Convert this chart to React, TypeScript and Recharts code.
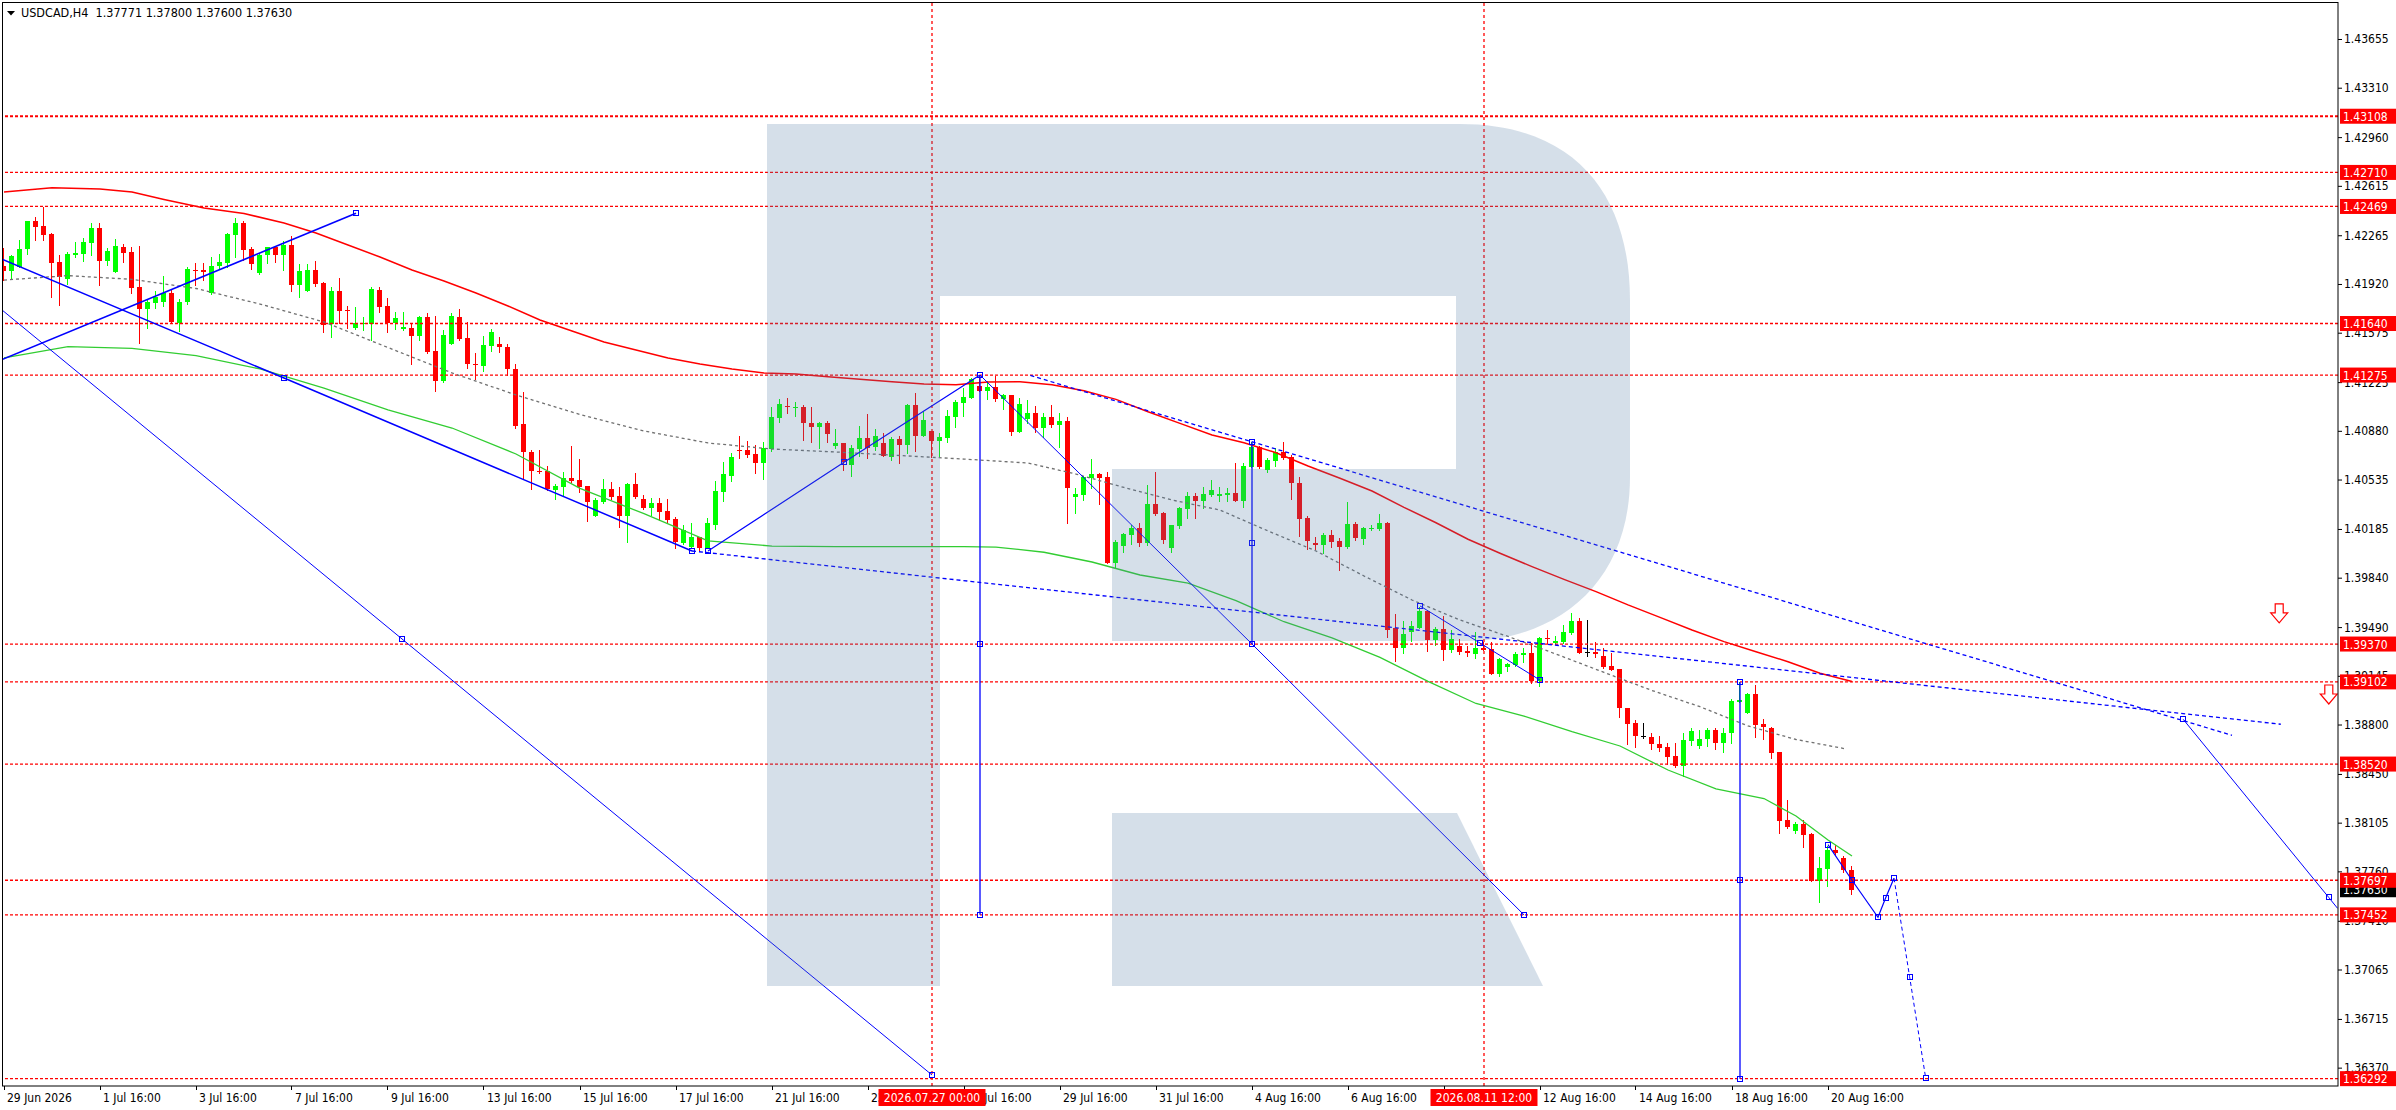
import React from 'react';
import { ComposedChart, Bar, Line, Scatter, XAxis, YAxis, ReferenceLine } from 'recharts';

const FONT = "'DejaVu Sans Condensed', 'DejaVu Sans', sans-serif";

// ---- candles (H4 bars, index 0 = 29 Jun 16:00) ----
const opens = [1.42049,1.42014,1.42042,1.42165,1.42368,1.42330,1.42274,1.42075,1.41957,1.42125,
1.42132,1.42212,1.42314,1.42085,1.42007,1.42179,1.42144,1.41896,1.41743,1.41787,
1.41795,1.41854,1.41646,1.41795,1.42019,1.42019,1.41854,1.42049,1.42071,1.42267,
1.42349,1.42165,1.42000,1.42125,1.42179,1.42125,1.42196,1.41913,1.41870,1.42019,
1.41929,1.41636,1.41870,1.41736,1.41610,1.41636,1.41636,1.41877,1.41764,1.41641,
1.41599,1.41606,1.41552,1.41689,1.41446,1.41235,1.41493,1.41689,1.41535,1.41353,
1.41342,1.41483,1.41495,1.41471,1.41318,1.40929,1.40733,1.40598,1.40596,1.40461,
1.40485,1.40544,1.40532,1.40490,1.40279,1.40379,1.40466,1.40419,1.40279,1.40504,
1.40397,1.40336,1.40367,1.40312,1.40256,1.40088,1.40055,1.40126,1.40048,1.40213,
1.40449,1.40563,1.40744,1.40744,1.40716,1.40655,1.40749,1.40973,1.41056,1.41044,
1.41051,1.40938,1.40910,1.40938,1.40773,1.40794,1.40638,1.40749,1.40830,1.40763,
1.40797,1.40697,1.40822,1.40780,1.41063,1.40844,1.40882,1.40811,1.40832,1.40981,
1.41075,1.41115,1.41198,1.41165,1.41188,1.41106,1.41134,1.40874,1.40964,1.41009,
1.40898,1.40976,1.40922,1.40950,1.40414,1.40426,1.40546,1.40575,1.40551,1.39947,
1.40065,1.40143,1.40190,1.40088,1.40362,1.40298,1.40053,1.40206,1.40329,1.40419,
1.40386,1.40426,1.40421,1.40428,1.40440,1.40386,1.40626,1.40763,1.40603,1.40669,
1.40733,1.40697,1.40508,1.40261,1.40084,1.40072,1.40143,1.40100,1.40055,1.40221,
1.40112,1.40183,1.40183,1.40230,1.39482,1.39345,1.39458,1.39486,1.39604,1.39399,
1.39474,1.39328,1.39356,1.39321,1.39300,1.39340,1.39333,1.39158,1.39210,1.39221,
1.39292,1.39309,1.39108,1.39415,1.39380,1.39387,1.39450,1.39533,1.39313,1.39311,
1.39285,1.39214,1.39191,1.38919,1.38813,1.38721,1.38714,1.38664,1.38638,1.38577,
1.38509,1.38686,1.38650,1.38695,1.38761,1.38671,1.38737,1.38962,1.38884,1.39016,
1.38804,1.38778,1.38603,1.38124,1.38048,1.38095,1.38025,1.37694,1.37777,1.37911,
1.37852,1.37771];

const highs = [1.42172,1.42125,1.42231,1.42368,1.42394,1.42467,1.42278,1.42125,1.42144,1.42215,
1.42248,1.42349,1.42349,1.42177,1.42238,1.42201,1.42184,1.42189,1.41813,1.41870,
1.41976,1.41882,1.41811,1.42042,1.42066,1.42066,1.42113,1.42132,1.42278,1.42385,
1.42368,1.42179,1.42142,1.42184,1.42189,1.42227,1.42260,1.42059,1.42061,1.42085,
1.41936,1.41901,1.41965,1.41766,1.41754,1.41684,1.41901,1.41901,1.41823,1.41724,
1.41719,1.41641,1.41696,1.41717,1.41693,1.41594,1.41717,1.41741,1.41651,1.41429,
1.41552,1.41599,1.41547,1.41493,1.41351,1.41153,1.40744,1.40744,1.40631,1.40504,
1.40589,1.40773,1.40681,1.40490,1.40402,1.40537,1.40518,1.40480,1.40508,1.40579,
1.40426,1.40402,1.40402,1.40395,1.40268,1.40213,1.40225,1.40131,1.40265,1.40527,
1.40659,1.40721,1.40844,1.40808,1.40780,1.40803,1.41051,1.41103,1.41115,1.41087,
1.41063,1.41051,1.40945,1.40950,1.40893,1.40794,1.40778,1.40915,1.41000,1.40893,
1.40867,1.40839,1.40844,1.41068,1.41151,1.41021,1.40882,1.40867,1.41028,1.41099,
1.41186,1.41257,1.41270,1.41236,1.41269,1.41141,1.41134,1.41115,1.41099,1.41056,
1.41009,1.41063,1.41009,1.40976,1.40473,1.40560,1.40681,1.40584,1.40586,1.40107,
1.40155,1.40213,1.40225,1.40497,1.40591,1.40308,1.40213,1.40338,1.40449,1.40438,
1.40485,1.40532,1.40480,1.40473,1.40650,1.40650,1.40799,1.40773,1.40686,1.40756,
1.40799,1.40709,1.40556,1.40279,1.40131,1.40154,1.40178,1.40124,1.40379,1.40237,
1.40202,1.40213,1.40289,1.40237,1.39583,1.39534,1.39536,1.39635,1.39604,1.39493,
1.39569,1.39470,1.39406,1.39356,1.39456,1.39387,1.39387,1.39269,1.39238,1.39316,
1.39339,1.39380,1.39422,1.39469,1.39427,1.39505,1.39587,1.39557,1.39540,1.39382,
1.39339,1.39309,1.39191,1.38919,1.38832,1.38813,1.38742,1.38721,1.38671,1.38667,
1.38742,1.38778,1.38761,1.38778,1.38778,1.38778,1.38978,1.39102,1.39025,1.39080,
1.38837,1.38785,1.38603,1.38265,1.38112,1.38124,1.38029,1.37859,1.37940,1.37947,
1.37869,1.37800];

const lows = [1.41948,1.41953,1.42042,1.42132,1.42231,1.42231,1.41830,1.41771,1.41920,1.42113,
1.42085,1.42125,1.41913,1.42054,1.42007,1.42073,1.41854,1.41500,1.41610,1.41747,
1.41766,1.41641,1.41587,1.41778,1.41913,1.41948,1.41849,1.42031,1.42042,1.42113,
1.42090,1.42026,1.41991,1.42066,1.42078,1.42019,1.41873,1.41830,1.41870,1.41906,
1.41582,1.41547,1.41641,1.41606,1.41599,1.41594,1.41523,1.41724,1.41582,1.41599,
1.41594,1.41351,1.41523,1.41429,1.41165,1.41224,1.41493,1.41523,1.41323,1.41245,
1.41306,1.41448,1.41441,1.41276,1.40898,1.40539,1.40468,1.40579,1.40461,1.40395,
1.40419,1.40520,1.40449,1.40244,1.40279,1.40371,1.40395,1.40197,1.40095,1.40402,
1.40324,1.40284,1.40249,1.40225,1.40048,1.40076,1.40055,1.40036,1.40048,1.40183,
1.40386,1.40527,1.40690,1.40697,1.40579,1.40537,1.40740,1.40945,1.41009,1.40988,
1.40815,1.40804,1.40761,1.40804,1.40756,1.40603,1.40563,1.40704,1.40690,1.40742,
1.40702,1.40674,1.40655,1.40721,1.40740,1.40844,1.40697,1.40702,1.40804,1.40910,
1.40985,1.41115,1.41165,1.41106,1.41094,1.41035,1.40851,1.40874,1.40933,1.40874,
1.40834,1.40905,1.40763,1.40225,1.40296,1.40390,1.40478,1.40362,1.39947,1.39906,
1.40025,1.40079,1.40065,1.40072,1.40284,1.40088,1.40024,1.40194,1.40265,1.40265,
1.40331,1.40421,1.40386,1.40386,1.40386,1.40343,1.40626,1.40615,1.40591,1.40634,
1.40678,1.40398,1.40138,1.40043,1.40041,1.40017,1.40060,1.39895,1.40048,1.40107,
1.40079,1.40178,1.40178,1.39423,1.39250,1.39309,1.39392,1.39482,1.39323,1.39364,
1.39257,1.39316,1.39297,1.39286,1.39274,1.39328,1.39158,1.39144,1.39182,1.39217,
1.39245,1.39096,1.39073,1.39375,1.39370,1.39380,1.39441,1.39304,1.39287,1.39276,
1.39198,1.39186,1.38855,1.38662,1.38638,1.38702,1.38627,1.38615,1.38518,1.38501,
1.38435,1.38655,1.38631,1.38650,1.38627,1.38608,1.38667,1.38962,1.38884,1.38714,
1.38695,1.38565,1.38029,1.38069,1.38029,1.37930,1.37694,1.37545,1.37656,1.37876,
1.37758,1.37600];

const closes = [1.42014,1.42118,1.42165,1.42368,1.42326,1.42269,1.42071,1.41967,1.42132,1.42137,
1.42215,1.42314,1.42085,1.42153,1.42189,1.42142,1.41894,1.41743,1.41790,1.41830,
1.41854,1.41648,1.41795,1.42024,1.42014,1.42007,1.42049,1.42073,1.42271,1.42349,
1.42161,1.42059,1.42125,1.42179,1.42125,1.42196,1.41913,1.42012,1.42019,1.41920,
1.41629,1.41870,1.41728,1.41728,1.41641,1.41646,1.41882,1.41759,1.41641,1.41677,
1.41613,1.41554,1.41689,1.41441,1.41235,1.41559,1.41693,1.41531,1.41351,1.41344,
1.41486,1.41582,1.41476,1.41316,1.40917,1.40733,1.40598,1.40591,1.40466,1.40490,
1.40544,1.40527,1.40485,1.40379,1.40390,1.40466,1.40414,1.40279,1.40504,1.40414,
1.40336,1.40367,1.40308,1.40249,1.40095,1.40178,1.40131,1.40048,1.40225,1.40454,
1.40574,1.40692,1.40737,1.40709,1.40655,1.40756,1.40976,1.41070,1.41047,1.41051,
1.40938,1.40910,1.40938,1.40858,1.40794,1.40657,1.40761,1.40830,1.40756,1.40844,
1.40704,1.40825,1.40780,1.41063,1.40844,1.40957,1.40811,1.40834,1.40985,1.41087,
1.41122,1.41247,1.41165,1.41188,1.41106,1.41134,1.40874,1.41070,1.41009,1.40898,
1.40976,1.40922,1.40950,1.40478,1.40433,1.40551,1.40575,1.40549,1.39947,1.40093,
1.40150,1.40190,1.40088,1.40362,1.40291,1.40107,1.40213,1.40336,1.40419,1.40386,
1.40433,1.40461,1.40433,1.40440,1.40386,1.40631,1.40763,1.40626,1.40674,1.40733,
1.40686,1.40508,1.40256,1.40102,1.40072,1.40143,1.40095,1.40060,1.40221,1.40119,
1.40190,1.40194,1.40230,1.39470,1.39345,1.39441,1.39498,1.39604,1.39399,1.39474,
1.39328,1.39404,1.39316,1.39304,1.39340,1.39328,1.39158,1.39262,1.39227,1.39299,
1.39309,1.39108,1.39415,1.39403,1.39391,1.39457,1.39533,1.39309,1.39313,1.39299,
1.39205,1.39186,1.38915,1.38804,1.38719,1.38721,1.38660,1.38636,1.38572,1.38509,
1.38690,1.38754,1.38697,1.38761,1.38671,1.38742,1.38966,1.38971,1.39016,1.38796,
1.38780,1.38601,1.38119,1.38076,1.38095,1.38017,1.37694,1.37781,1.37911,1.37888,
1.37770,1.37630];

// ---- moving averages ----
const redMA = [{i:0,p:1.42571},{i:6,p:1.42602},{i:12,p:1.42593},{i:16,p:1.42571},{i:20,p:1.42518},{i:25,p:1.42458},{i:30,p:1.42419},{i:35,p:1.42352},{i:39,p:1.42281},{i:43,p:1.42196},{i:47,p:1.42111},{i:51,p:1.42019},{i:55,p:1.41941},{i:59,p:1.41856},{i:63,p:1.41764},{i:67,p:1.41665},{i:71,p:1.41587},{i:75,p:1.41509},{i:79,p:1.41452},{i:83,p:1.41396},{i:87,p:1.41353},{i:91,p:1.41318},{i:95,p:1.41290},{i:99,p:1.41283},{i:103,p:1.41263},{i:107,p:1.41245},{i:111,p:1.41228},{i:115,p:1.41212},{i:119,p:1.41207},{i:123,p:1.41226},{i:127,p:1.41228},{i:131,p:1.41207},{i:135,p:1.41164},{i:139,p:1.41103},{i:143,p:1.41015},{i:147,p:1.40933},{i:151,p:1.40850},{i:155,p:1.40796},{i:159,p:1.40725},{i:163,p:1.40631},{i:167,p:1.40544},{i:171,p:1.40454},{i:175,p:1.40338},{i:179,p:1.40229},{i:183,p:1.40112},{i:187,p:1.40013},{i:191,p:1.39918},{i:195,p:1.39828},{i:199,p:1.39741},{i:203,p:1.39647},{i:207,p:1.39559},{i:211,p:1.39469},{i:215,p:1.39387},{i:219,p:1.39316},{i:223,p:1.39245},{i:227,p:1.39163},{i:231,p:1.39104}];

const greenMA = [{i:0,p:1.41396},{i:8,p:1.41476},{i:16,p:1.41464},{i:24,p:1.41413},{i:32,p:1.41318},{i:40,p:1.41183},{i:48,p:1.41028},{i:56,p:1.40900},{i:64,p:1.40716},{i:72,p:1.40472},{i:80,p:1.40293},{i:88,p:1.40100},{i:96,p:1.40064},{i:104,p:1.40060},{i:112,p:1.40060},{i:120,p:1.40060},{i:124,p:1.40057},{i:130,p:1.40020},{i:136,p:1.39951},{i:142,p:1.39859},{i:148,p:1.39802},{i:154,p:1.39677},{i:160,p:1.39528},{i:166,p:1.39413},{i:172,p:1.39275},{i:178,p:1.39106},{i:184,p:1.38949},{i:190,p:1.38860},{i:196,p:1.38749},{i:202,p:1.38648},{i:208,p:1.38478},{i:214,p:1.38344},{i:220,p:1.38276},{i:224,p:1.38152},{i:228,p:1.37982},{i:231,p:1.37869}];

const grayMA = [{i:0,p:1.41948},{i:8,p:1.41979},{i:16,p:1.41953},{i:24,p:1.41888},{i:32,p:1.41778},{i:40,p:1.41651},{i:48,p:1.41470},{i:56,p:1.41290},{i:64,p:1.41134},{i:72,p:1.40996},{i:80,p:1.40879},{i:88,p:1.40794},{i:96,p:1.40751},{i:104,p:1.40730},{i:112,p:1.40705},{i:120,p:1.40680},{i:128,p:1.40652},{i:134,p:1.40574},{i:140,p:1.40479},{i:146,p:1.40390},{i:152,p:1.40319},{i:158,p:1.40171},{i:164,p:1.40029},{i:170,p:1.39852},{i:176,p:1.39682},{i:182,p:1.39540},{i:188,p:1.39424},{i:194,p:1.39299},{i:200,p:1.39169},{i:206,p:1.39041},{i:212,p:1.38926},{i:218,p:1.38790},{i:224,p:1.38694},{i:230,p:1.38630}];

// ---- drawn objects (bar index, price) ----
const lineTopLeft = [{i:-0.25,p:1.41385},{i:44,p:1.42421}];
const zigzagA = [{i:-0.25,p:1.42095},{i:35,p:1.41254},{i:86,p:1.40029}];
const lineLongLow = [{i:-0.25,p:1.41736},{i:49.75,p:1.39406},{i:116,p:1.36318}];
const zigzagB = [{i:88,p:1.40029},{i:105,p:1.40657},{i:122,p:1.41275}];
const lineDown = [{i:122,p:1.41275},{i:156,p:1.39370},{i:190,p:1.37452}];
const dottedA = [{i:86,p:1.40029},{i:284.6,p:1.38802}];
const dottedB = [{i:128.3,p:1.41272},{i:278.5,p:1.38724}];
const lineMid = [{i:177,p:1.39640},{i:184.5,p:1.39377},{i:192,p:1.39115}];
const vert122 = [{i:122,p:1.41275},{i:122,p:1.37452}];
const vert156 = [{i:156,p:1.40799},{i:156,p:1.39370}];
const vert217 = [{i:217,p:1.39102},{i:217,p:1.36292}];
const forecastSolid = [{i:228,p:1.37950},{i:231,p:1.37697},{i:234.25,p:1.37435},{i:235.2,p:1.37571},{i:236.25,p:1.37711}];
const forecastDotted = [{i:236.25,p:1.37711},{i:238.2,p:1.37014},{i:240.2,p:1.36300}];
const rightLine = [{i:272.4,p:1.38837},{i:290.6,p:1.37575},{i:291.7,p:1.37498}];

const markers = [{i:35,p:1.41254},{i:86,p:1.40029},{i:88,p:1.40029},{i:44,p:1.42421},{i:49.75,p:1.39406},{i:116,p:1.36318},{i:105,p:1.40657},{i:122,p:1.41275},{i:122,p:1.39370},{i:122,p:1.37452},{i:156,p:1.40799},{i:156,p:1.40084},{i:156,p:1.39370},{i:190,p:1.37452},{i:177,p:1.39640},{i:184.5,p:1.39377},{i:192,p:1.39115},{i:217,p:1.39102},{i:217,p:1.37697},{i:217,p:1.36292},{i:228,p:1.37950},{i:231,p:1.37697},{i:234.25,p:1.37435},{i:235.2,p:1.37571},{i:236.25,p:1.37711},{i:238.2,p:1.37014},{i:240.2,p:1.36300},{i:272.4,p:1.38837},{i:290.6,p:1.37575}];

const arrows = [{i:284.4,p:1.39655},{i:290.6,p:1.39080}];

// ---- levels & axes ----
const levels = [1.43108,1.42710,1.42469,1.41640,1.41275,1.39370,1.39102,1.38520,1.37697,1.37452,1.36292];
const currentPrice = 1.37630;
const priceTicks = [1.43655,1.43310,1.42960,1.42615,1.42265,1.41920,1.41575,1.41225,1.40880,1.40535,1.40185,1.39840,1.39490,1.39145,1.38800,1.38450,1.38105,1.37760,1.37410,1.37065,1.36715,1.36370];
const timeTickIdx = [0,12,24,36,48,60,72,84,96,108,120,132,144,156,168,180,192,204,216,228];
const timeTickText = ['29 Jun 2026','1 Jul 16:00','3 Jul 16:00','7 Jul 16:00','9 Jul 16:00','13 Jul 16:00','15 Jul 16:00','17 Jul 16:00','21 Jul 16:00','23 Jul 16:00','27 Jul 16:00','29 Jul 16:00','31 Jul 16:00','4 Aug 16:00','6 Aug 16:00','10 Aug 16:00','12 Aug 16:00','14 Aug 16:00','18 Aug 16:00','20 Aug 16:00'];
const vLineIdx = [116, 185];
const vLineText = ['2026.07.27 00:00', '2026.08.11 12:00'];
const headerSymbol = 'USDCAD,H4';
const headerOHLC = [1.37771, 1.37800, 1.37600, 1.37630];

const candles = opens.map((o, k) => ({ i: k, o, h: highs[k], l: lows[k], c: closes[k], range: [lows[k], highs[k]] }));

const Candle = (props: any) => {
  const { x, y, width, height, payload } = props;
  if (!payload) return null;
  const { o, h, l, c } = payload;
  const top = Math.min(y, y + height);
  const bot = Math.max(y, y + height);
  const span = h - l;
  const py = (v: number) => (span > 0 ? top + ((h - v) / span) * (bot - top) : top);
  const cx = Math.floor(x + width / 2);
  const color = c > o ? '#00ff00' : c < o ? '#ff0000' : '#000000';
  const bTop = Math.round(Math.min(py(o), py(c)));
  const bBot = Math.round(Math.max(py(o), py(c)));
  return (
    <g>
      <line x1={cx + 0.5} x2={cx + 0.5} y1={Math.round(top)} y2={Math.round(bot) + 1} stroke={color} strokeWidth={1} />
      {c === o ? (
        <line x1={cx - 2} x2={cx + 3} y1={bTop + 0.5} y2={bTop + 0.5} stroke={color} strokeWidth={1} />
      ) : (
        <rect x={cx - 2} y={bTop} width={5} height={Math.max(1, bBot - bTop)} fill={color} />
      )}
    </g>
  );
};

const Marker = (props: any) => {
  const { cx, cy } = props;
  if (cx == null || cy == null) return null;
  return <rect x={Math.round(cx) - 2.5} y={Math.round(cy) - 2.5} width={5} height={5} fill="none" stroke="#0000ff" strokeWidth={1} />;
};

const Arrow = (props: any) => {
  const { cx, cy } = props;
  if (cx == null || cy == null) return null;
  const d = `M${cx - 4},${cy} L${cx + 4},${cy} L${cx + 4},${cy + 9} L${cx + 8.5},${cy + 9} L${cx},${cy + 19} L${cx - 8.5},${cy + 9} L${cx - 4},${cy + 9} Z`;
  return <path d={d} fill="#ffffff" stroke="#ff0000" strokeWidth={1.2} />;
};

const YTick = (props: any) => {
  const { x, y, payload } = props;
  const v = payload.value;
  const txt = Number(v).toFixed(5);
  if (levels.includes(v)) {
    return (
      <g>
        <rect x={x + 2} y={y - 7.5} width={56} height={15} fill="#ff0000" />
        <text x={x + 5} y={y + 4.5} fill="#ffffff" fontSize={12} fontFamily={FONT}>{txt}</text>
      </g>
    );
  }
  if (v === currentPrice) {
    return (
      <g>
        <rect x={x + 2} y={y - 7.5} width={56} height={15} fill="#000000" />
        <text x={x + 5} y={y + 4.5} fill="#ffffff" fontSize={12} fontFamily={FONT}>{txt}</text>
      </g>
    );
  }
  return (
    <g>
      <line x1={x} x2={x + 4} y1={y + 0.5} y2={y + 0.5} stroke="#000" strokeWidth={1} />
      <text x={x + 6} y={y + 4.5} fill="#000000" fontSize={12} fontFamily={FONT}>{txt}</text>
    </g>
  );
};

const XTick = (props: any) => {
  const { x, y, payload } = props;
  const v = payload.value;
  const vk = vLineIdx.indexOf(v);
  if (vk >= 0) {
    return (
      <g>
        <rect x={x - 53.5} y={y + 3} width={107} height={17} fill="#ff0000" />
        <text x={x} y={y + 16} fill="#ffffff" fontSize={12} fontFamily={FONT} textAnchor="middle">{vLineText[vk]}</text>
      </g>
    );
  }
  const k = timeTickIdx.indexOf(v);
  if (k < 0) return null;
  return (
    <g>
      <line x1={Math.floor(x) + 0.5} x2={Math.floor(x) + 0.5} y1={y} y2={y + 4} stroke="#000" strokeWidth={1} />
      <text x={x + 3} y={y + 16} fill="#000000" fontSize={12} fontFamily={FONT}>{timeTickText[k]}</text>
    </g>
  );
};

const blue = '#0000ff';

export default function App() {
  return (
    <div style={{ position: 'absolute', left: 0, top: 0, width: 2396, height: 1110, background: '#ffffff', overflow: 'hidden' }}>
      <ComposedChart width={2396} height={1110} data={candles} margin={{ top: 2, right: 0, bottom: 0, left: 2 }}>
        <XAxis dataKey="i" type="number" domain={[-0.25, 291.75]} allowDataOverflow ticks={[...timeTickIdx, ...vLineIdx]} interval={0}
          tick={<XTick />} tickSize={0} tickMargin={0} axisLine={false} tickLine={false} height={24} />
        <YAxis orientation="right" type="number" domain={[1.3624, 1.43917]} allowDataOverflow
          ticks={[...priceTicks, currentPrice, ...levels]} interval={0} tick={<YTick />} width={58}
          tickSize={0} tickMargin={0} axisLine={false} tickLine={false} />
        {levels.map((lv) => (
          <ReferenceLine key={'l' + lv} y={lv} stroke="#ff0000" strokeWidth={lv === 1.43108 ? 2 : 1.3} strokeDasharray="3 2" />
        ))}
        {vLineIdx.map((v) => (
          <ReferenceLine key={'v' + v} x={v} stroke="#ff0000" strokeWidth={1.3} strokeDasharray="3 3" />
        ))}
        <Bar dataKey="range" barSize={5} shape={<Candle />} isAnimationActive={false} />
        <Line data={redMA} dataKey="p" stroke="#ff0000" strokeWidth={1.5} dot={false} activeDot={false} isAnimationActive={false} type="linear" />
        <Line data={greenMA} dataKey="p" stroke="#32cd32" strokeWidth={1.3} dot={false} activeDot={false} isAnimationActive={false} type="linear" />
        <Line data={grayMA} dataKey="p" stroke="#707070" strokeWidth={1.3} strokeDasharray="3 3" dot={false} activeDot={false} isAnimationActive={false} type="linear" />
        <Line data={lineTopLeft} dataKey="p" stroke={blue} strokeWidth={1.6} dot={false} activeDot={false} isAnimationActive={false} type="linear" />
        <Line data={zigzagA} dataKey="p" stroke={blue} strokeWidth={1.5} dot={false} activeDot={false} isAnimationActive={false} type="linear" />
        <Line data={lineLongLow} dataKey="p" stroke={blue} strokeWidth={1} dot={false} activeDot={false} isAnimationActive={false} type="linear" />
        <Line data={zigzagB} dataKey="p" stroke={blue} strokeWidth={1.2} dot={false} activeDot={false} isAnimationActive={false} type="linear" />
        <Line data={lineDown} dataKey="p" stroke={blue} strokeWidth={1} dot={false} activeDot={false} isAnimationActive={false} type="linear" />
        <Line data={dottedA} dataKey="p" stroke={blue} strokeWidth={1.3} strokeDasharray="4 3" dot={false} activeDot={false} isAnimationActive={false} type="linear" />
        <Line data={dottedB} dataKey="p" stroke={blue} strokeWidth={1.3} strokeDasharray="4 3" dot={false} activeDot={false} isAnimationActive={false} type="linear" />
        <Line data={lineMid} dataKey="p" stroke={blue} strokeWidth={1} dot={false} activeDot={false} isAnimationActive={false} type="linear" />
        <Line data={vert122} dataKey="p" stroke={blue} strokeWidth={1.3} dot={false} activeDot={false} isAnimationActive={false} type="linear" />
        <Line data={vert156} dataKey="p" stroke={blue} strokeWidth={1.3} dot={false} activeDot={false} isAnimationActive={false} type="linear" />
        <Line data={vert217} dataKey="p" stroke={blue} strokeWidth={1.3} dot={false} activeDot={false} isAnimationActive={false} type="linear" />
        <Line data={forecastSolid} dataKey="p" stroke={blue} strokeWidth={1.2} dot={false} activeDot={false} isAnimationActive={false} type="linear" />
        <Line data={forecastDotted} dataKey="p" stroke={blue} strokeWidth={1} strokeDasharray="4 3" dot={false} activeDot={false} isAnimationActive={false} type="linear" />
        <Line data={rightLine} dataKey="p" stroke={blue} strokeWidth={1} dot={false} activeDot={false} isAnimationActive={false} type="linear" />
        <Scatter data={markers} dataKey="p" shape={Marker} isAnimationActive={false} />
        <Scatter data={arrows} dataKey="p" shape={Arrow} isAnimationActive={false} />
      </ComposedChart>
      <svg width={2396} height={1110} style={{ position: 'absolute', left: 0, top: 0, pointerEvents: 'none' }}>
        <g fill="rgb(82,123,165)" fillOpacity={0.243}>
          <path d="M767,124 L1460,124 C1580,124 1630,200 1630,300 L1630,477 C1630,585 1555,641 1465,641 L1112,641 L1112,469 L1456,469 L1456,296 L940,296 L940,986 L767,986 Z" />
          <path d="M1112,813 L1457,813 L1543,986 L1112,986 Z" />
        </g>
        <rect x={2.5} y={2.5} width={2335.5} height={1083.5} fill="none" stroke="#000" strokeWidth={1} />
        <polygon points="7,11 15,11 11,15.5" fill="#000" />
        <text x={21} y={17} fontSize={12.5} fontFamily={FONT} fill="#000" style={{ whiteSpace: 'pre' }}>
          {headerSymbol + '  ' + headerOHLC.map((v) => v.toFixed(5)).join(' ')}
        </text>
      </svg>
    </div>
  );
}
